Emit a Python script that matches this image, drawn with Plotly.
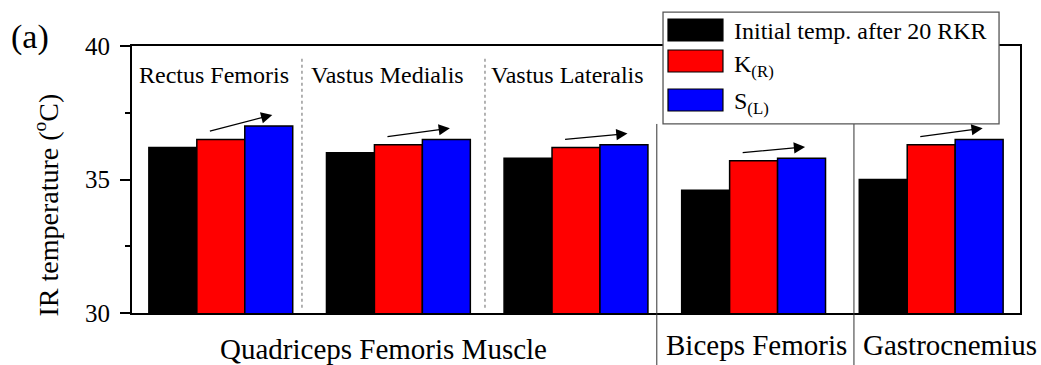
import plotly.graph_objects as go

# Muscle regions and IR temperatures (°C)
muscles = ["Rectus Femoris", "Vastus Medialis", "Vastus Lateralis",
           "Biceps Femoris", "Gastrocnemius"]
initial_temp = [36.2, 36.0, 35.8, 34.6, 35.0]
k_right = [36.5, 36.3, 36.2, 35.7, 36.3]
s_left = [37.0, 36.5, 36.3, 35.8, 36.5]

series_names = ["Initial temp. after 20 RKR", "K<sub>(R)</sub>", "S<sub>(L)</sub>"]
series_colors = ["#000000", "#ff0000", "#0000ff"]

# Labels: the three quadriceps heads are named inside the plot,
# the muscle groups underneath it
inner_labels = muscles[:3]
group_labels = ["Quadriceps Femoris Muscle", "Biceps Femoris", "Gastrocnemius"]

y_ticks = [30, 35, 40]

FONT = "Liberation Serif"

fig = go.Figure()
for name, vals, col in zip(series_names, [initial_temp, k_right, s_left], series_colors):
    fig.add_trace(go.Bar(
        x=muscles, y=vals, name=name,
        marker=dict(color=col, line=dict(color="#000000", width=1.5)),
        showlegend=False,
    ))

shapes = []
annotations = []

# Dashed separators between quadriceps heads
for xp in [0.1914, 0.3975]:
    shapes.append(dict(type="line", xref="paper", yref="paper",
                       x0=xp, x1=xp, y0=0.02, y1=0.955,
                       line=dict(color="#808080", width=1.2, dash="3px,3px")))
# Solid separators between muscle groups (run down past the axis)
for xp in [0.591, 0.813]:
    shapes.append(dict(type="line", xref="paper", yref="paper",
                       x0=xp, x1=xp, y0=-0.2, y1=0.708,
                       line=dict(color="#333333", width=1)))

# Trend arrows from K(R) to S(L)
for i, (k, s) in enumerate(zip(k_right, s_left)):
    annotations.append(dict(
        x=i + 0.29, y=s + 0.42, ax=i - 0.07, ay=k + 0.3,
        xref="x", yref="y", axref="x", ayref="y",
        text="", showarrow=True, arrowhead=2, arrowsize=1.8,
        arrowwidth=1.25, arrowcolor="#000000", standoff=0,
    ))

# Names of the quadriceps heads
for xp, lab in zip([0.0056, 0.1993, 0.402], inner_labels):
    annotations.append(dict(x=xp, y=0.891, xref="paper", yref="paper",
                            xanchor="left", yanchor="middle", text=lab,
                            showarrow=False, font=dict(family=FONT, size=24, color="#000")))

# Muscle group labels below the axis
for xp, yp, lab in zip([0.2832, 0.7033, 0.9212], [-0.135, -0.12, -0.12], group_labels):
    annotations.append(dict(x=xp, y=yp, xref="paper", yref="paper",
                            xanchor="center", yanchor="middle", text=lab,
                            showarrow=False, font=dict(family=FONT, size=29, color="#000")))

# Panel tag and axis title
annotations.append(dict(x=-0.1149, y=1.035, xref="paper", yref="paper",
                        xanchor="center", yanchor="middle", text="(a)",
                        showarrow=False, font=dict(family=FONT, size=34, color="#000")))
annotations.append(dict(x=-0.0957, y=0.4026, xref="paper", yref="paper",
                        xanchor="center", yanchor="middle", textangle=-90,
                        text="IR temperature (<sup>o</sup>C)",
                        showarrow=False, font=dict(family=FONT, size=28, color="#000")))

# Legend box with wide swatches
shapes.append(dict(type="rect", xref="paper", yref="paper",
                   x0=0.598, x1=0.9764, y0=0.708, y1=1.127,
                   fillcolor="#ffffff", line=dict(color="#555555", width=1.3),
                   layer="above"))
swatch_rows = [(1.019, 1.101), (0.9026, 0.985), (0.7566, 0.839)]
text_rows = [1.056, 0.925, 0.785]
for (y0, y1), ty, name, col in zip(swatch_rows, text_rows, series_names, series_colors):
    shapes.append(dict(type="rect", xref="paper", yref="paper",
                       x0=0.6036, x1=0.6655, y0=y0, y1=y1,
                       fillcolor=col, line=dict(color="#000000", width=1.2),
                       layer="above"))
    annotations.append(dict(x=0.6757, y=ty, xref="paper", yref="paper",
                            xanchor="left", yanchor="middle", text=name,
                            showarrow=False, font=dict(family=FONT, size=24, color="#000")))

fig.update_layout(
    width=1041, height=365,
    margin=dict(l=132, r=21, t=46, b=52, pad=0),
    paper_bgcolor="#ffffff", plot_bgcolor="#ffffff",
    barmode="group", bargap=0.19, bargroupgap=0,
    font=dict(family=FONT, size=24, color="#000"),
    shapes=shapes, annotations=annotations,
    showlegend=False,
)
fig.update_xaxes(
    range=[-0.5, 4.5], showticklabels=False, ticks="",
    showline=True, linecolor="#000", linewidth=2, mirror=True,
    showgrid=False, zeroline=False,
)
fig.update_yaxes(
    range=[30, 40], tickvals=y_ticks,
    ticktext=[f"{v}\u2009" for v in y_ticks],
    ticks="outside", ticklen=10, tickwidth=2, tickcolor="#000",
    minor=dict(dtick=2.5, tick0=30, ticks="outside", ticklen=5, tickwidth=1.5, tickcolor="#000"),
    showline=True, linecolor="#000", linewidth=2, mirror=True,
    showgrid=False, zeroline=False,
    tickfont=dict(family=FONT, size=25, color="#000"),
)

fig.write_html("out.html")
